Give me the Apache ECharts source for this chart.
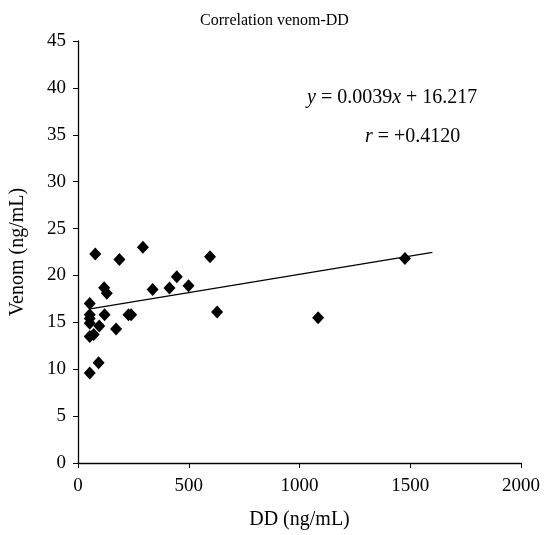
<!DOCTYPE html>
<html>
<head>
<meta charset="utf-8">
<script src="https://cdn.jsdelivr.net/npm/echarts@6/dist/echarts.min.js"></script>
<style>html,body{margin:0;padding:0;background:#fff}#c{width:549px;height:535px}</style>
</head>
<body>
<div id="c"></div>
<script>
const ddValues = [53, 78, 53, 53, 53, 53, 53, 71, 96, 93, 118, 130, 120, 172, 187, 228, 240, 293, 337, 413, 446, 499, 596, 628, 1084, 1476];
const venomValues = [9.6, 22.3, 17.0, 15.8, 15.4, 14.9, 13.5, 13.7, 14.6, 10.7, 18.7, 18.1, 15.8, 14.3, 21.7, 15.8, 15.8, 23.0, 18.5, 18.65, 19.85, 18.9, 22.0, 16.1, 15.5, 21.8];
const trendCoef = [0.0039, 16.217];
const trendRange = [55, 1600];
const xTicks = [0, 500, 1000, 1500, 2000];
const yTicks = [0, 5, 10, 15, 20, 25, 30, 35, 40, 45];

const pts = ddValues.map((x, i) => [x, venomValues[i]]);
const trend = trendRange.map(x => [x, trendCoef[0] * x + trendCoef[1]]);
const F = '"Liberation Serif", "DejaVu Serif", serif';

const chart = echarts.init(document.getElementById('c'));
chart.setOption({
  animation: false,
  title: {
    text: 'Correlation venom-DD', left: 'center', top: 8,
    textStyle: { fontFamily: F, fontSize: 16, fontWeight: 'normal', color: '#000' }
  },
  grid: { left: 76, right: 28, top: 41, bottom: 70 },
  xAxis: {
    type: 'value', min: xTicks[0], max: xTicks[xTicks.length - 1], interval: 500,
    name: 'DD (ng/mL)', nameLocation: 'middle', nameGap: 47,
    nameTextStyle: { fontFamily: F, fontSize: 20, color: '#000' },
    axisLine: { lineStyle: { color: '#000', width: 1.3 } },
    axisTick: { show: true, length: 5, lineStyle: { color: '#000' } },
    axisLabel: { fontFamily: F, fontSize: 19, color: '#000', margin: 14, formatter: v => String(v) },
    splitLine: { show: false }
  },
  yAxis: {
    type: 'value', min: yTicks[0], max: yTicks[yTicks.length - 1], interval: 5,
    name: 'Venom (ng/mL)', nameLocation: 'middle', nameGap: 50,
    nameTextStyle: { fontFamily: F, fontSize: 20, color: '#000' },
    axisLine: { show: true, lineStyle: { color: '#000', width: 1.3 } },
    axisTick: { show: true, length: 5, lineStyle: { color: '#000' } },
    axisLabel: { fontFamily: F, fontSize: 19, color: '#000', margin: 12 },
    splitLine: { show: false }
  },
  series: [
    {
      type: 'line', data: trend, showSymbol: false, symbol: 'none',
      lineStyle: { color: '#000', width: 1.2 }, z: 2
    },
    {
      type: 'scatter', data: pts, symbol: 'diamond', symbolSize: [12, 13],
      itemStyle: { color: '#000', opacity: 1 }, z: 3
    }
  ],
  graphic: [
    {
      type: 'text', left: 307, top: 88,
      style: {
        text: '{i|y} = 0.0039{i|x} + 16.217',
        rich: { i: { fontFamily: F, fontSize: 20, fontStyle: 'italic', fill: '#000' } },
        font: '20px "Liberation Serif", serif', fill: '#000'
      }
    },
    {
      type: 'text', left: 365, top: 127,
      style: {
        text: '{i|r} = +0.4120',
        rich: { i: { fontFamily: F, fontSize: 20, fontStyle: 'italic', fill: '#000' } },
        font: '20px "Liberation Serif", serif', fill: '#000'
      }
    }
  ]
});
</script>
</body>
</html>
